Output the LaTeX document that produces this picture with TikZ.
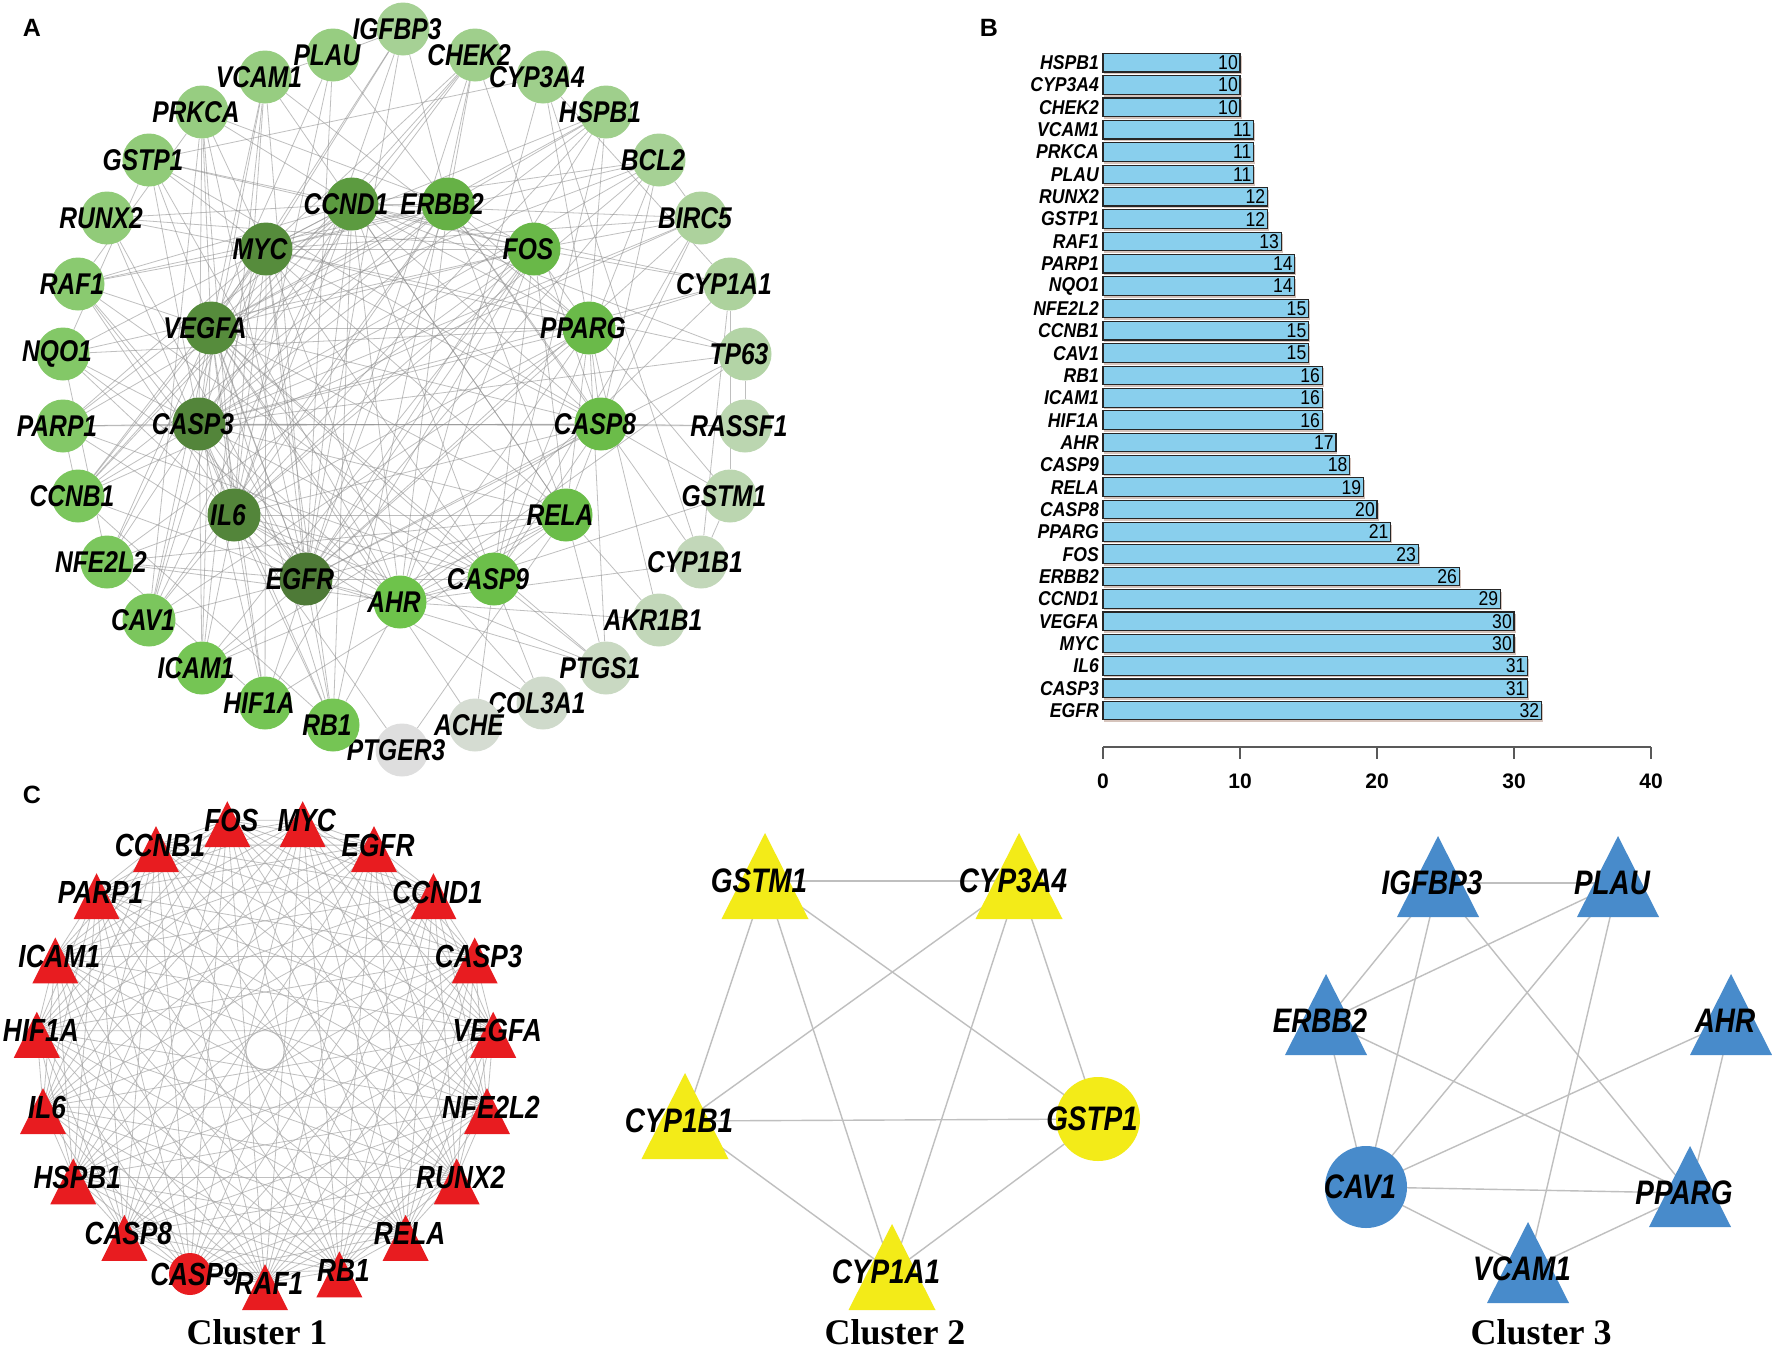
\documentclass[tikz,border=0pt]{standalone}
\usepackage{fontspec}
\setmainfont{Liberation Sans}
\newfontfamily\condfont[FakeStretch=0.82]{Liberation Sans}
\newfontfamily\narrowfont[FakeStretch=0.88]{Liberation Sans}
\newfontfamily\serifbold{Liberation Serif}
\usepackage{xcolor}
\definecolor{GLow}{RGB}{222,222,222}
\definecolor{GMid}{RGB}{110,195,75}
\definecolor{GDark}{RGB}{78,122,55}
\definecolor{BarBlue}{RGB}{137,207,237}
\definecolor{BarShade}{RGB}{214,196,188}
\definecolor{RedTri}{RGB}{232,28,32}
\definecolor{YelTri}{RGB}{243,235,24}
\definecolor{BlueTri}{RGB}{72,139,203}
\usepackage{tikz}
\pgfdeclarelayer{bg}
\pgfdeclarelayer{edges}
\pgfdeclarelayer{shapes}
\pgfsetlayers{bg,edges,shapes,main}
\newcommand{\Lbl}[1]{\makebox[0pt]{\kern-12pt#1}}
\newcommand{\Rbl}[1]{\makebox[0pt]{\kern8pt#1}}
\tikzstyle{Gene}=[circle,draw=none,minimum size=53pt,inner sep=0pt,
font=\condfont\fontsize{30}{30}\selectfont\bfseries\itshape]
\tikzstyle{Edge}=[draw=black!45,line width=0.8pt,opacity=.55]
\tikzstyle{DenseEdge}=[draw=black!35,line width=0.8pt,opacity=.7]
\tikzstyle{ClEdge}=[draw=black!25,line width=1.4pt]
\tikzstyle{ClLabel}=[inner sep=0pt,font=\condfont\fontsize{34}{34}\selectfont\bfseries\itshape]
\tikzstyle{C1Label}=[inner sep=0pt,font=\condfont\fontsize{32}{32}\selectfont\bfseries\itshape]
\tikzstyle{ClRound}=[circle,minimum size=84pt]
\tikzstyle{BarName}=[anchor=east,inner sep=0pt,
font=\narrowfont\fontsize{20}{20}\selectfont\bfseries\itshape]
\tikzstyle{BarVal}=[anchor=east,inner sep=0pt,font=\narrowfont\fontsize{20}{20}\selectfont]
\tikzstyle{Bar}=[draw=black!85,fill=BarBlue,line width=1.2pt]
\tikzstyle{Axis}=[draw=black!65,line width=1.6pt]
\tikzstyle{Tick}=[inner sep=0pt,font=\fontsize{21}{21}\selectfont\bfseries]
\tikzstyle{Panel}=[inner sep=0pt,font=\fontsize{25}{25}\selectfont\bfseries]
\tikzstyle{Cluster}=[anchor=base,inner sep=0pt,font=\serifbold\fontsize{36}{36}\selectfont\bfseries]
\begin{document}
\begin{tikzpicture}[x=1pt,y=-1pt]
    \begin{pgfonlayer}{bg}
        \fill[white](0,0)rectangle(1772,1352);
    \end{pgfonlayer}
    \useasboundingbox(0,0)rectangle(1772,1352);
    \node[Panel](pA)at(32,28){A};
    \node[Panel](pB)at(989,28){B};
    \node[Panel](pC)at(32,795){C};
    % A: outer ring
    \node[Gene,fill=GMid!50!GLow](A-IGFBP3)at(403,29){\Lbl{IGFBP3}};
    \node[Gene,fill=GMid!56!GLow](A-CHEK2)at(475,55){\Lbl{CHEK2}};
    \node[Gene,fill=GMid!56!GLow](A-CYP3A4)at(543,77){\Lbl{CYP3A4}};
    \node[Gene,fill=GMid!56!GLow](A-HSPB1)at(606,112){\Lbl{HSPB1}};
    \node[Gene,fill=GMid!50!GLow](A-BCL2)at(659,160){\Lbl{BCL2}};
    \node[Gene,fill=GMid!44!GLow](A-BIRC5)at(701,218){\Lbl{BIRC5}};
    \node[Gene,fill=GMid!44!GLow](A-CYP1A1)at(730,284){\Lbl{CYP1A1}};
    \node[Gene,fill=GMid!38!GLow](A-TP63)at(745,354){\Lbl{TP63}};
    \node[Gene,fill=GMid!31!GLow](A-RASSF1)at(745,426){\Lbl{RASSF1}};
    \node[Gene,fill=GMid!31!GLow](A-GSTM1)at(730,496){\Lbl{GSTM1}};
    \node[Gene,fill=GMid!25!GLow](A-CYP1B1)at(701,562){\Lbl{CYP1B1}};
    \node[Gene,fill=GMid!25!GLow](A-AKR1B1)at(659,620){\Lbl{AKR1B1}};
    \node[Gene,fill=GMid!19!GLow](A-PTGS1)at(606,668){\Lbl{PTGS1}};
    \node[Gene,fill=GMid!13!GLow](A-COL3A1)at(543,703){\Lbl{COL3A1}};
    \node[Gene,fill=GMid!8!GLow](A-ACHE)at(475,725){\Lbl{ACHE}};
    \node[Gene,fill=GLow](A-PTGER3)at(402,750){\Lbl{PTGER3}};
    \node[Gene,fill=GMid!94!GLow](A-RB1)at(333,725){\Lbl{RB1}};
    \node[Gene,fill=GMid!94!GLow](A-HIF1A)at(265,703){\Lbl{HIF1A}};
    \node[Gene,fill=GMid!94!GLow](A-ICAM1)at(202,668){\Lbl{ICAM1}};
    \node[Gene,fill=GMid!88!GLow](A-CAV1)at(149,620){\Lbl{CAV1}};
    \node[Gene,fill=GMid!88!GLow](A-NFE2L2)at(107,562){\Lbl{NFE2L2}};
    \node[Gene,fill=GMid!88!GLow](A-CCNB1)at(78,496){\Lbl{CCNB1}};
    \node[Gene,fill=GMid!81!GLow](A-PARP1)at(63,426){\Lbl{PARP1}};
    \node[Gene,fill=GMid!81!GLow](A-NQO1)at(63,354){\Lbl{NQO1}};
    \node[Gene,fill=GMid!75!GLow](A-RAF1)at(78,284){\Lbl{RAF1}};
    \node[Gene,fill=GMid!69!GLow](A-RUNX2)at(107,218){\Lbl{RUNX2}};
    \node[Gene,fill=GMid!69!GLow](A-GSTP1)at(149,160){\Lbl{GSTP1}};
    \node[Gene,fill=GMid!63!GLow](A-PRKCA)at(202,112){\Lbl{PRKCA}};
    \node[Gene,fill=GMid!63!GLow](A-VCAM1)at(265,77){\Lbl{VCAM1}};
    \node[Gene,fill=GMid!63!GLow](A-PLAU)at(333,55){\Lbl{PLAU}};
    % A: inner ring
    \node[Gene,fill=GMid](A-AHR)at(400,602){\Lbl{AHR}};
    \node[Gene,fill=GDark!5!GMid](A-CASP9)at(494,579){\Lbl{CASP9}};
    \node[Gene,fill=GDark!8!GMid](A-RELA)at(566,515){\Lbl{RELA}};
    \node[Gene,fill=GDark!10!GMid](A-CASP8)at(601,424){\Lbl{CASP8}};
    \node[Gene,fill=GDark!12!GMid](A-PPARG)at(589,328){\Lbl{PPARG}};
    \node[Gene,fill=GDark!15!GMid](A-FOS)at(534,249){\Lbl{FOS}};
    \node[Gene,fill=GDark!25!GMid](A-ERBB2)at(448,204){\Lbl{ERBB2}};
    \node[Gene,fill=GDark!55!GMid](A-CCND1)at(352,204){\Lbl{CCND1}};
    \node[Gene,fill=GDark!75!GMid](A-MYC)at(266,249){\Lbl{MYC}};
    \node[Gene,fill=GDark!75!GMid](A-VEGFA)at(211,328){\Lbl{VEGFA}};
    \node[Gene,fill=GDark!85!GMid](A-CASP3)at(199,424){\Lbl{CASP3}};
    \node[Gene,fill=GDark!85!GMid](A-IL6)at(234,515){\Lbl{IL6}};
    \node[Gene,fill=GDark](A-EGFR)at(306,579){\Lbl{EGFR}};
    \begin{pgfonlayer}{edges}
        \foreach \b in {CASP3,IL6,MYC,VEGFA,CCND1,ERBB2,FOS,PPARG,CASP8,RELA,CASP9,AHR,CAV1,ICAM1,HIF1A,RB1,NFE2L2,CCNB1,PARP1,RAF1,PRKCA,VCAM1,PLAU,IGFBP3,HSPB1,CHEK2,BCL2,BIRC5,TP63,GSTP1,RUNX2,PTGS1}
            \draw[Edge](A-EGFR)--(A-\b);
        \foreach \b in {IL6,MYC,VEGFA,CCND1,ERBB2,FOS,PPARG,CASP8,RELA,CASP9,AHR,PARP1,CCNB1,NQO1,RAF1,HSPB1,BCL2,BIRC5,CHEK2,ICAM1,HIF1A,RB1,CAV1,NFE2L2,PRKCA,VCAM1,GSTP1,TP63,RASSF1,CYP1A1}
            \draw[Edge](A-CASP3)--(A-\b);
        \foreach \b in {MYC,VEGFA,CCND1,ERBB2,FOS,PPARG,CASP8,RELA,CASP9,AHR,ICAM1,VCAM1,HIF1A,CAV1,RUNX2,PLAU,IGFBP3,PTGS1,NFE2L2,PRKCA,RB1,BCL2,HSPB1,PTGER3,COL3A1,RAF1,NQO1}
            \draw[Edge](A-IL6)--(A-\b);
        \foreach \b in {VEGFA,CCND1,ERBB2,FOS,PPARG,CASP8,RELA,CASP9,AHR,RB1,CCNB1,RAF1,CHEK2,PARP1,BCL2,BIRC5,TP63,RUNX2,HIF1A,NFE2L2,GSTP1,HSPB1,CAV1,PRKCA,IGFBP3}
            \draw[Edge](A-MYC)--(A-\b);
        \foreach \b in {CCND1,ERBB2,FOS,PPARG,CASP8,RELA,CASP9,AHR,HIF1A,ICAM1,VCAM1,PLAU,CAV1,PRKCA,RAF1,NFE2L2,HSPB1,IGFBP3,PTGS1,BCL2,RB1,COL3A1,CCNB1,ACHE}
            \draw[Edge](A-VEGFA)--(A-\b);
        \foreach \b in {ERBB2,FOS,PPARG,CASP8,RELA,CASP9,AHR,RB1,CCNB1,CHEK2,CYP1A1,PARP1,RAF1,RUNX2,NQO1,CAV1,BCL2,BIRC5,TP63,GSTP1,PRKCA}
            \draw[Edge](A-CCND1)--(A-\b);
        \foreach \b in {FOS,PPARG,CASP8,RELA,AHR,CAV1,PLAU,IGFBP3,PRKCA,RAF1,CHEK2,CCNB1,HSPB1,PARP1,CYP1B1}
            \draw[Edge](A-ERBB2)--(A-\b);
        \foreach \b in {PPARG,RELA,AHR,CASP9,NQO1,NFE2L2,CYP1A1,RUNX2,HIF1A,GSTP1,ICAM1,BIRC5}
            \draw[Edge](A-FOS)--(A-\b);
        \foreach \b in {CASP8,RELA,AHR,CYP1A1,GSTM1,NQO1,CAV1,HSPB1,VCAM1,AKR1B1,CYP3A4,PTGS1}
            \draw[Edge](A-PPARG)--(A-\b);
        \foreach \b in {RELA,CASP9,PARP1,RASSF1,BIRC5,BCL2,ICAM1,CHEK2}
            \draw[Edge](A-CASP8)--(A-\b);
        \foreach \b in {CASP9,AHR,ICAM1,VCAM1,NFE2L2,PTGS1,HIF1A,PTGER3,AKR1B1}
            \draw[Edge](A-RELA)--(A-\b);
        \foreach \b in {AHR,PARP1,BCL2,BIRC5,RAF1,PTGS1,HSPB1,COL3A1,ACHE}
            \draw[Edge](A-CASP9)--(A-\b);
        \foreach \b in {CYP1A1,CYP1B1,NQO1,NFE2L2,GSTM1,CYP3A4,GSTP1,AKR1B1,RB1,TP63}
            \draw[Edge](A-AHR)--(A-\b);
        \foreach \a/\b in {CYP1A1/CYP1B1,CYP1A1/CYP3A4,GSTM1/GSTP1,GSTP1/CYP3A4,NQO1/NFE2L2,CHEK2/RB1,HIF1A/NFE2L2,ICAM1/VCAM1,PLAU/IGFBP3,PARP1/CCNB1,CCNB1/CHEK2,RAF1/PRKCA,CYP1A1/GSTM1,CYP1B1/GSTM1,TP63/RASSF1,BCL2/BIRC5,PLAU/VCAM1,CAV1/PRKCA,RB1/CCNB1,BIRC5/CCNB1,GSTP1/NQO1,CYP3A4/CYP1B1}
            \draw[Edge](A-\a)--(A-\b);
    \end{pgfonlayer}
    % B: degree bars
    \foreach \g/\v [count=\i from 0] in {HSPB1/10,CYP3A4/10,CHEK2/10,VCAM1/11,PRKCA/11,PLAU/11,RUNX2/12,GSTP1/12,RAF1/13,PARP1/14,NQO1/14,NFE2L2/15,CCNB1/15,CAV1/15,RB1/16,ICAM1/16,HIF1A/16,AHR/17,CASP9/18,RELA/19,CASP8/20,PPARG/21,FOS/23,ERBB2/26,CCND1/29,VEGFA/30,MYC/30,IL6/31,CASP3/31,EGFR/32}{
        \pgfmathsetmacro\yb{62.7+22.34*\i}
        \pgfmathsetmacro\xe{1103+13.7*\v}
        \fill[BarShade](1104,\yb-7)rectangle(\xe+1.5,\yb+11.5);
        \draw[Bar](1103,\yb-9.3)rectangle(\xe,\yb+9.3);
        \node[BarName](bn\i)at(1099,\yb){\g};
        \node[BarVal](bv\i)at(\xe-2,\yb){\v};
    }
    \draw[Axis](1103,747)--(1651,747);
    \foreach \t in {0,10,20,30,40}{
        \draw[Axis](1103+13.7*\t,747)--(1103+13.7*\t,759);
        \node[Tick](tk\t)at(1103+13.7*\t,781){\t};
    }
    % C: cluster 1
    \foreach \g [count=\i from 0] in {RAF1,RB1,RELA,RUNX2,NFE2L2,VEGFA,CASP3,CCND1,EGFR,MYC,FOS,CCNB1,PARP1,ICAM1,HIF1A,IL6,HSPB1,CASP8}
        \node[C1Label](C1-\i)at({265+229*cos(270+18.947*\i)},{1050-233*sin(270+18.947*\i)}){\Rbl{\g}};
    \node[C1Label,circle,minimum size=42pt,fill=RedTri](C1-18)at(190,1274){\Rbl{CASP9}};
    \begin{pgfonlayer}{shapes}
        \foreach \i in {0,...,17}
            \fill[RedTri]([yshift=19pt]C1-\i.center)--++(23,46)--++(-46,0)--cycle;
    \end{pgfonlayer}
    \begin{pgfonlayer}{edges}
        \foreach \i in {0,...,17}{
            \pgfmathtruncatemacro\k{\i+1}
            \foreach \j in {\k,...,18}
                \draw[DenseEdge](C1-\i.center)--(C1-\j.center);
        }
    \end{pgfonlayer}
    \node[Cluster](cl1)at(257,1344){Cluster 1};
    % C: cluster 2
    \node[ClLabel](C2-GSTM1)at(765,881){\Lbl{GSTM1}};
    \node[ClLabel](C2-CYP3A4)at(1019,881){\Lbl{CYP3A4}};
    \node[ClLabel](C2-CYP1B1)at(685,1121){\Lbl{CYP1B1}};
    \node[ClLabel,ClRound,fill=YelTri](C2-GSTP1)at(1098,1119){\Lbl{GSTP1}};
    \node[ClLabel](C2-CYP1A1)at(892,1272){\Lbl{CYP1A1}};
    \begin{pgfonlayer}{shapes}
        \foreach \n in {GSTM1,CYP3A4,CYP1B1,CYP1A1}
            \fill[YelTri]([yshift=48pt]C2-\n.center)--++(43.5,86)--++(-87,0)--cycle;
    \end{pgfonlayer}
    \begin{pgfonlayer}{edges}
        \foreach \a/\b in {GSTM1/CYP3A4,GSTM1/CYP1B1,GSTM1/CYP1A1,GSTM1/GSTP1,CYP3A4/CYP1B1,CYP3A4/CYP1A1,CYP3A4/GSTP1,CYP1B1/GSTP1,CYP1B1/CYP1A1,CYP1A1/GSTP1}
            \draw[ClEdge](C2-\a.center)--(C2-\b.center);
    \end{pgfonlayer}
    \node[Cluster](cl2)at(895,1344){Cluster 2};
    % C: cluster 3
    \node[ClLabel](C3-IGFBP3)at(1438,883){\Lbl{IGFBP3}};
    \node[ClLabel](C3-PLAU)at(1618,883){\Lbl{PLAU}};
    \node[ClLabel](C3-ERBB2)at(1326,1021){\Lbl{ERBB2}};
    \node[ClLabel](C3-AHR)at(1731,1021){\Lbl{AHR}};
    \node[ClLabel,ClRound,minimum size=82pt,fill=BlueTri](C3-CAV1)at(1366,1187){\Lbl{CAV1}};
    \node[ClLabel](C3-PPARG)at(1690,1193){\Lbl{PPARG}};
    \node[ClLabel](C3-VCAM1)at(1528,1269){\Lbl{VCAM1}};
    \begin{pgfonlayer}{shapes}
        \foreach \n in {IGFBP3,PLAU,ERBB2,AHR,PPARG,VCAM1}
            \fill[BlueTri]([yshift=47pt]C3-\n.center)--++(41,81)--++(-82,0)--cycle;
    \end{pgfonlayer}
    \begin{pgfonlayer}{edges}
        \foreach \a/\b in {IGFBP3/PLAU,IGFBP3/ERBB2,IGFBP3/CAV1,IGFBP3/PPARG,PLAU/ERBB2,PLAU/CAV1,PLAU/VCAM1,ERBB2/CAV1,ERBB2/PPARG,AHR/CAV1,AHR/PPARG,CAV1/PPARG,CAV1/VCAM1,VCAM1/PPARG}
            \draw[ClEdge](C3-\a.center)--(C3-\b.center);
    \end{pgfonlayer}
    \node[Cluster](cl3)at(1541,1344){Cluster 3};
\end{tikzpicture}
\end{document}
